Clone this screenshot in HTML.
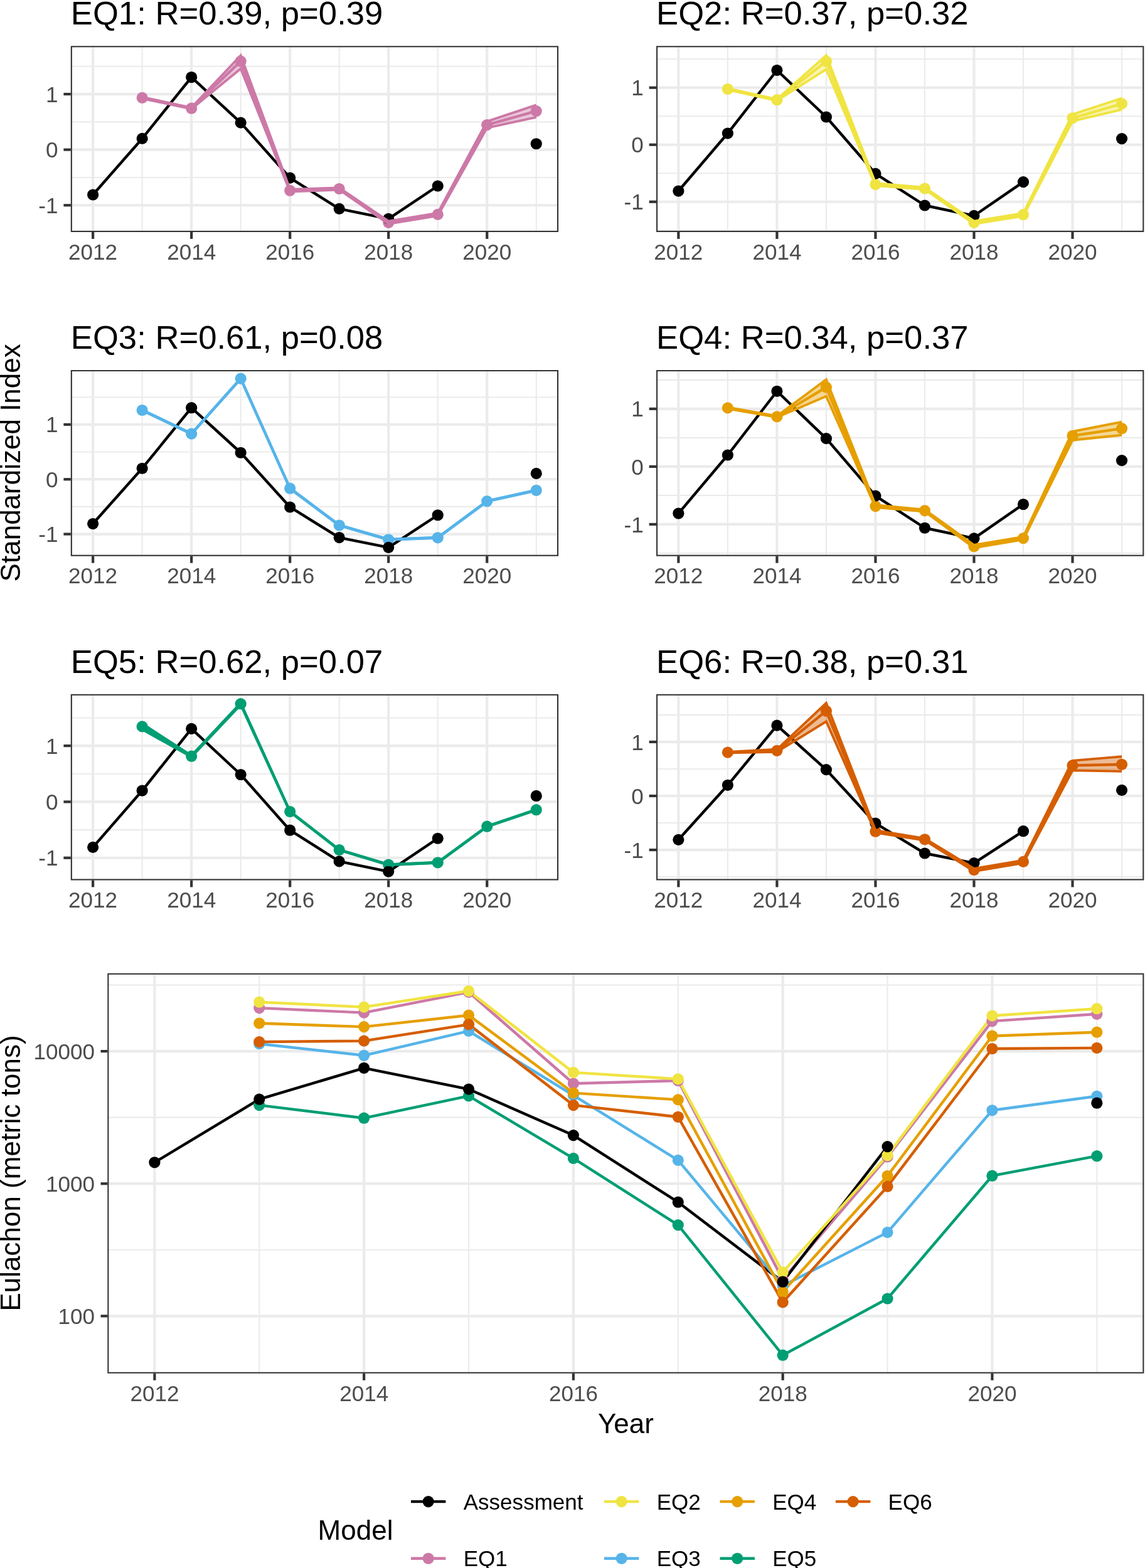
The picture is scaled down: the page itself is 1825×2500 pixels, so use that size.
<!DOCTYPE html>
<html lang="en">
<head>
<meta charset="utf-8">
<title>Eulachon index comparison</title>
<style>
html,body{margin:0;padding:0;background:#fff;}
body{width:1825px;height:2500px;overflow:hidden;}
svg{display:block;}
text{font-kerning:none;}
</style>
</head>
<body>
<svg width="1825" height="2500" viewBox="0 0 1825 2500">
<rect width="1825" height="2500" fill="#fff"/>
<text x="112.8" y="39.3" font-family='"Liberation Sans", sans-serif' font-size="52.65" fill="#000">EQ1: R=0.39, p=0.39</text>
<clipPath id="cp0"><rect x="112.8" y="73.2" width="777.3" height="296.8"/></clipPath>
<g clip-path="url(#cp0)">
<g stroke="#EBEBEB" stroke-width="2.1" fill="none">
<line x1="112.8" x2="890.1" y1="282.95" y2="282.95"/>
<line x1="112.8" x2="890.1" y1="194.35" y2="194.35"/>
<line x1="112.8" x2="890.1" y1="105.75" y2="105.75"/>
<line x1="226.65" x2="226.65" y1="73.2" y2="370"/>
<line x1="383.68" x2="383.68" y1="73.2" y2="370"/>
<line x1="540.71" x2="540.71" y1="73.2" y2="370"/>
<line x1="697.74" x2="697.74" y1="73.2" y2="370"/>
<line x1="854.77" x2="854.77" y1="73.2" y2="370"/>
</g>
<g stroke="#EBEBEB" stroke-width="4.2" fill="none">
<line x1="112.8" x2="890.1" y1="327.25" y2="327.25"/>
<line x1="112.8" x2="890.1" y1="238.65" y2="238.65"/>
<line x1="112.8" x2="890.1" y1="150.05" y2="150.05"/>
<line x1="148.13" x2="148.13" y1="73.2" y2="370"/>
<line x1="305.16" x2="305.16" y1="73.2" y2="370"/>
<line x1="462.19" x2="462.19" y1="73.2" y2="370"/>
<line x1="619.22" x2="619.22" y1="73.2" y2="370"/>
<line x1="776.25" x2="776.25" y1="73.2" y2="370"/>
</g>
<polyline points="148.13,310.5 226.65,220.93 305.16,123.03 383.68,195.59 462.19,283.57 540.71,332.83 619.22,348.87 697.74,296.51" fill="none" stroke="#000" stroke-width="4.4" stroke-linejoin="round"/>
<circle cx="226.65" cy="155.9" r="9.1" fill="#CC79A7"/>
<circle cx="305.16" cy="172.7" r="9.1" fill="#CC79A7"/>
<circle cx="383.68" cy="97.6" r="9.1" fill="#CC79A7"/>
<circle cx="462.19" cy="303.8" r="9.1" fill="#CC79A7"/>
<circle cx="540.71" cy="301" r="9.1" fill="#CC79A7"/>
<circle cx="619.22" cy="354.8" r="9.1" fill="#CC79A7"/>
<circle cx="697.74" cy="341.9" r="9.1" fill="#CC79A7"/>
<circle cx="776.25" cy="199.1" r="9.1" fill="#CC79A7"/>
<circle cx="854.77" cy="177.1" r="9.1" fill="#CC79A7"/>
<circle cx="148.13" cy="310.5" r="9.1" fill="#000"/>
<circle cx="226.65" cy="220.93" r="9.1" fill="#000"/>
<circle cx="305.16" cy="123.03" r="9.1" fill="#000"/>
<circle cx="383.68" cy="195.59" r="9.1" fill="#000"/>
<circle cx="462.19" cy="283.57" r="9.1" fill="#000"/>
<circle cx="540.71" cy="332.83" r="9.1" fill="#000"/>
<circle cx="619.22" cy="348.87" r="9.1" fill="#000"/>
<circle cx="697.74" cy="296.51" r="9.1" fill="#000"/>
<circle cx="854.77" cy="229.26" r="9.1" fill="#000"/>
<polygon points="226.65,154.8 305.16,171.7 383.68,88.5 462.19,302 540.71,299.5 619.22,352.6 697.74,339.7 776.25,193.6 854.77,167.3 854.77,186.9 776.25,203.9 697.74,344.1 619.22,357 540.71,302.5 462.19,305.6 383.68,109.5 305.16,173.7 226.65,157" fill="#CC79A7" fill-opacity="0.42" stroke="none"/>
<polyline points="226.65,154.8 305.16,171.7 383.68,88.5 462.19,302 540.71,299.5 619.22,352.6 697.74,339.7 776.25,193.6 854.77,167.3" fill="none" stroke="#CC79A7" stroke-width="3.9" stroke-linejoin="miter" stroke-miterlimit="10"/>
<polyline points="226.65,157 305.16,173.7 383.68,109.5 462.19,305.6 540.71,302.5 619.22,357 697.74,344.1 776.25,203.9 854.77,186.9" fill="none" stroke="#CC79A7" stroke-width="3.9" stroke-linejoin="miter" stroke-miterlimit="10"/>
<polyline points="226.65,155.9 305.16,172.7 383.68,97.6 462.19,303.8 540.71,301 619.22,354.8 697.74,341.9 776.25,199.1 854.77,177.1" fill="none" stroke="#CC79A7" stroke-width="4.4" stroke-linejoin="round"/>
<rect x="112.8" y="73.2" width="777.3" height="296.8" fill="none" stroke="#333333" stroke-width="4.2"/>
</g>
<g stroke="#333333" stroke-width="4.2" fill="none">
<line x1="148.13" x2="148.13" y1="370" y2="380.9"/>
<line x1="305.16" x2="305.16" y1="370" y2="380.9"/>
<line x1="462.19" x2="462.19" y1="370" y2="380.9"/>
<line x1="619.22" x2="619.22" y1="370" y2="380.9"/>
<line x1="776.25" x2="776.25" y1="370" y2="380.9"/>
<line x1="101.4" x2="112.8" y1="327.25" y2="327.25"/>
<line x1="101.4" x2="112.8" y1="238.65" y2="238.65"/>
<line x1="101.4" x2="112.8" y1="150.05" y2="150.05"/>
</g>
<g font-family='"Liberation Sans", sans-serif' font-size="35.1" fill="#4D4D4D">
<text x="148.13" y="413.7" text-anchor="middle">2012</text>
<text x="305.16" y="413.7" text-anchor="middle">2014</text>
<text x="462.19" y="413.7" text-anchor="middle">2016</text>
<text x="619.22" y="413.7" text-anchor="middle">2018</text>
<text x="776.25" y="413.7" text-anchor="middle">2020</text>
<text x="92.5" y="339.85" text-anchor="end">-1</text>
<text x="92.5" y="251.25" text-anchor="end">0</text>
<text x="92.5" y="162.65" text-anchor="end">1</text>
</g>
<text x="1046.05" y="39.3" font-family='"Liberation Sans", sans-serif' font-size="52.65" fill="#000">EQ2: R=0.37, p=0.32</text>
<clipPath id="cp1"><rect x="1046.05" y="73.2" width="777.3" height="296.8"/></clipPath>
<g clip-path="url(#cp1)">
<g stroke="#EBEBEB" stroke-width="2.1" fill="none">
<line x1="1046.05" x2="1823.35" y1="367.25" y2="367.25"/>
<line x1="1046.05" x2="1823.35" y1="276.25" y2="276.25"/>
<line x1="1046.05" x2="1823.35" y1="185.25" y2="185.25"/>
<line x1="1046.05" x2="1823.35" y1="94.25" y2="94.25"/>
<line x1="1159.9" x2="1159.9" y1="73.2" y2="370"/>
<line x1="1316.93" x2="1316.93" y1="73.2" y2="370"/>
<line x1="1473.96" x2="1473.96" y1="73.2" y2="370"/>
<line x1="1630.99" x2="1630.99" y1="73.2" y2="370"/>
<line x1="1788.02" x2="1788.02" y1="73.2" y2="370"/>
</g>
<g stroke="#EBEBEB" stroke-width="4.2" fill="none">
<line x1="1046.05" x2="1823.35" y1="321.75" y2="321.75"/>
<line x1="1046.05" x2="1823.35" y1="230.75" y2="230.75"/>
<line x1="1046.05" x2="1823.35" y1="139.75" y2="139.75"/>
<line x1="1081.38" x2="1081.38" y1="73.2" y2="370"/>
<line x1="1238.41" x2="1238.41" y1="73.2" y2="370"/>
<line x1="1395.44" x2="1395.44" y1="73.2" y2="370"/>
<line x1="1552.47" x2="1552.47" y1="73.2" y2="370"/>
<line x1="1709.5" x2="1709.5" y1="73.2" y2="370"/>
</g>
<polyline points="1081.38,304.55 1159.9,212.55 1238.41,112 1316.93,186.52 1395.44,276.89 1473.96,327.48 1552.47,343.95 1630.99,290.17" fill="none" stroke="#000" stroke-width="4.4" stroke-linejoin="round"/>
<circle cx="1159.9" cy="142" r="9.1" fill="#F0E442"/>
<circle cx="1238.41" cy="159.3" r="9.1" fill="#F0E442"/>
<circle cx="1316.93" cy="97.8" r="9.1" fill="#F0E442"/>
<circle cx="1395.44" cy="294" r="9.1" fill="#F0E442"/>
<circle cx="1473.96" cy="300.5" r="9.1" fill="#F0E442"/>
<circle cx="1552.47" cy="354.8" r="9.1" fill="#F0E442"/>
<circle cx="1630.99" cy="342.2" r="9.1" fill="#F0E442"/>
<circle cx="1709.5" cy="188.3" r="9.1" fill="#F0E442"/>
<circle cx="1788.02" cy="165.4" r="9.1" fill="#F0E442"/>
<circle cx="1081.38" cy="304.55" r="9.1" fill="#000"/>
<circle cx="1159.9" cy="212.55" r="9.1" fill="#000"/>
<circle cx="1238.41" cy="112" r="9.1" fill="#000"/>
<circle cx="1316.93" cy="186.52" r="9.1" fill="#000"/>
<circle cx="1395.44" cy="276.89" r="9.1" fill="#000"/>
<circle cx="1473.96" cy="327.48" r="9.1" fill="#000"/>
<circle cx="1552.47" cy="343.95" r="9.1" fill="#000"/>
<circle cx="1630.99" cy="290.17" r="9.1" fill="#000"/>
<circle cx="1788.02" cy="221.1" r="9.1" fill="#000"/>
<polygon points="1159.9,140.9 1238.41,158.3 1316.93,88.3 1395.44,292.2 1473.96,299 1552.47,352.6 1630.99,340 1709.5,182.3 1788.02,156.6 1788.02,174.5 1709.5,193.2 1630.99,344.4 1552.47,357 1473.96,302 1395.44,295.8 1316.93,110.6 1238.41,160.3 1159.9,143.1" fill="#F0E442" fill-opacity="0.42" stroke="none"/>
<polyline points="1159.9,140.9 1238.41,158.3 1316.93,88.3 1395.44,292.2 1473.96,299 1552.47,352.6 1630.99,340 1709.5,182.3 1788.02,156.6" fill="none" stroke="#F0E442" stroke-width="3.9" stroke-linejoin="miter" stroke-miterlimit="10"/>
<polyline points="1159.9,143.1 1238.41,160.3 1316.93,110.6 1395.44,295.8 1473.96,302 1552.47,357 1630.99,344.4 1709.5,193.2 1788.02,174.5" fill="none" stroke="#F0E442" stroke-width="3.9" stroke-linejoin="miter" stroke-miterlimit="10"/>
<polyline points="1159.9,142 1238.41,159.3 1316.93,97.8 1395.44,294 1473.96,300.5 1552.47,354.8 1630.99,342.2 1709.5,188.3 1788.02,165.4" fill="none" stroke="#F0E442" stroke-width="4.4" stroke-linejoin="round"/>
<rect x="1046.05" y="73.2" width="777.3" height="296.8" fill="none" stroke="#333333" stroke-width="4.2"/>
</g>
<g stroke="#333333" stroke-width="4.2" fill="none">
<line x1="1081.38" x2="1081.38" y1="370" y2="380.9"/>
<line x1="1238.41" x2="1238.41" y1="370" y2="380.9"/>
<line x1="1395.44" x2="1395.44" y1="370" y2="380.9"/>
<line x1="1552.47" x2="1552.47" y1="370" y2="380.9"/>
<line x1="1709.5" x2="1709.5" y1="370" y2="380.9"/>
<line x1="1034.65" x2="1046.05" y1="321.75" y2="321.75"/>
<line x1="1034.65" x2="1046.05" y1="230.75" y2="230.75"/>
<line x1="1034.65" x2="1046.05" y1="139.75" y2="139.75"/>
</g>
<g font-family='"Liberation Sans", sans-serif' font-size="35.1" fill="#4D4D4D">
<text x="1081.38" y="413.7" text-anchor="middle">2012</text>
<text x="1238.41" y="413.7" text-anchor="middle">2014</text>
<text x="1395.44" y="413.7" text-anchor="middle">2016</text>
<text x="1552.47" y="413.7" text-anchor="middle">2018</text>
<text x="1709.5" y="413.7" text-anchor="middle">2020</text>
<text x="1025.75" y="334.35" text-anchor="end">-1</text>
<text x="1025.75" y="243.35" text-anchor="end">0</text>
<text x="1025.75" y="152.35" text-anchor="end">1</text>
</g>
<text x="112.8" y="556.05" font-family='"Liberation Sans", sans-serif' font-size="52.65" fill="#000">EQ3: R=0.61, p=0.08</text>
<clipPath id="cp2"><rect x="112.8" y="589.95" width="777.3" height="296.8"/></clipPath>
<g clip-path="url(#cp2)">
<g stroke="#EBEBEB" stroke-width="2.1" fill="none">
<line x1="112.8" x2="890.1" y1="807.88" y2="807.88"/>
<line x1="112.8" x2="890.1" y1="720.53" y2="720.53"/>
<line x1="112.8" x2="890.1" y1="633.18" y2="633.18"/>
<line x1="226.65" x2="226.65" y1="589.95" y2="886.75"/>
<line x1="383.68" x2="383.68" y1="589.95" y2="886.75"/>
<line x1="540.71" x2="540.71" y1="589.95" y2="886.75"/>
<line x1="697.74" x2="697.74" y1="589.95" y2="886.75"/>
<line x1="854.77" x2="854.77" y1="589.95" y2="886.75"/>
</g>
<g stroke="#EBEBEB" stroke-width="4.2" fill="none">
<line x1="112.8" x2="890.1" y1="851.55" y2="851.55"/>
<line x1="112.8" x2="890.1" y1="764.2" y2="764.2"/>
<line x1="112.8" x2="890.1" y1="676.85" y2="676.85"/>
<line x1="148.13" x2="148.13" y1="589.95" y2="886.75"/>
<line x1="305.16" x2="305.16" y1="589.95" y2="886.75"/>
<line x1="462.19" x2="462.19" y1="589.95" y2="886.75"/>
<line x1="619.22" x2="619.22" y1="589.95" y2="886.75"/>
<line x1="776.25" x2="776.25" y1="589.95" y2="886.75"/>
</g>
<polyline points="148.13,835.04 226.65,746.73 305.16,650.21 383.68,721.75 462.19,808.49 540.71,857.05 619.22,872.86 697.74,821.24" fill="none" stroke="#000" stroke-width="4.4" stroke-linejoin="round"/>
<circle cx="226.65" cy="654" r="9.1" fill="#56B4E9"/>
<circle cx="305.16" cy="691.6" r="9.1" fill="#56B4E9"/>
<circle cx="383.68" cy="603.6" r="9.1" fill="#56B4E9"/>
<circle cx="462.19" cy="778.7" r="9.1" fill="#56B4E9"/>
<circle cx="540.71" cy="837.5" r="9.1" fill="#56B4E9"/>
<circle cx="619.22" cy="860.3" r="9.1" fill="#56B4E9"/>
<circle cx="697.74" cy="857.3" r="9.1" fill="#56B4E9"/>
<circle cx="776.25" cy="799.1" r="9.1" fill="#56B4E9"/>
<circle cx="854.77" cy="781.8" r="9.1" fill="#56B4E9"/>
<circle cx="148.13" cy="835.04" r="9.1" fill="#000"/>
<circle cx="226.65" cy="746.73" r="9.1" fill="#000"/>
<circle cx="305.16" cy="650.21" r="9.1" fill="#000"/>
<circle cx="383.68" cy="721.75" r="9.1" fill="#000"/>
<circle cx="462.19" cy="808.49" r="9.1" fill="#000"/>
<circle cx="540.71" cy="857.05" r="9.1" fill="#000"/>
<circle cx="619.22" cy="872.86" r="9.1" fill="#000"/>
<circle cx="697.74" cy="821.24" r="9.1" fill="#000"/>
<circle cx="854.77" cy="754.94" r="9.1" fill="#000"/>
<polygon points="226.65,653.4 305.16,691 383.68,603 462.19,778.1 540.71,836.9 619.22,859.7 697.74,856.7 776.25,798.5 854.77,781.2 854.77,782.4 776.25,799.7 697.74,857.9 619.22,860.9 540.71,838.1 462.19,779.3 383.68,604.2 305.16,692.2 226.65,654.6" fill="#56B4E9" fill-opacity="0.42" stroke="none"/>
<polyline points="226.65,653.4 305.16,691 383.68,603 462.19,778.1 540.71,836.9 619.22,859.7 697.74,856.7 776.25,798.5 854.77,781.2" fill="none" stroke="#56B4E9" stroke-width="3.9" stroke-linejoin="miter" stroke-miterlimit="10"/>
<polyline points="226.65,654.6 305.16,692.2 383.68,604.2 462.19,779.3 540.71,838.1 619.22,860.9 697.74,857.9 776.25,799.7 854.77,782.4" fill="none" stroke="#56B4E9" stroke-width="3.9" stroke-linejoin="miter" stroke-miterlimit="10"/>
<polyline points="226.65,654 305.16,691.6 383.68,603.6 462.19,778.7 540.71,837.5 619.22,860.3 697.74,857.3 776.25,799.1 854.77,781.8" fill="none" stroke="#56B4E9" stroke-width="4.4" stroke-linejoin="round"/>
<rect x="112.8" y="589.95" width="777.3" height="296.8" fill="none" stroke="#333333" stroke-width="4.2"/>
</g>
<g stroke="#333333" stroke-width="4.2" fill="none">
<line x1="148.13" x2="148.13" y1="886.75" y2="897.65"/>
<line x1="305.16" x2="305.16" y1="886.75" y2="897.65"/>
<line x1="462.19" x2="462.19" y1="886.75" y2="897.65"/>
<line x1="619.22" x2="619.22" y1="886.75" y2="897.65"/>
<line x1="776.25" x2="776.25" y1="886.75" y2="897.65"/>
<line x1="101.4" x2="112.8" y1="851.55" y2="851.55"/>
<line x1="101.4" x2="112.8" y1="764.2" y2="764.2"/>
<line x1="101.4" x2="112.8" y1="676.85" y2="676.85"/>
</g>
<g font-family='"Liberation Sans", sans-serif' font-size="35.1" fill="#4D4D4D">
<text x="148.13" y="930.45" text-anchor="middle">2012</text>
<text x="305.16" y="930.45" text-anchor="middle">2014</text>
<text x="462.19" y="930.45" text-anchor="middle">2016</text>
<text x="619.22" y="930.45" text-anchor="middle">2018</text>
<text x="776.25" y="930.45" text-anchor="middle">2020</text>
<text x="92.5" y="864.15" text-anchor="end">-1</text>
<text x="92.5" y="776.8" text-anchor="end">0</text>
<text x="92.5" y="689.45" text-anchor="end">1</text>
</g>
<text x="1046.05" y="556.05" font-family='"Liberation Sans", sans-serif' font-size="52.65" fill="#000">EQ4: R=0.34, p=0.37</text>
<clipPath id="cp3"><rect x="1046.05" y="589.95" width="777.3" height="296.8"/></clipPath>
<g clip-path="url(#cp3)">
<g stroke="#EBEBEB" stroke-width="2.1" fill="none">
<line x1="1046.05" x2="1823.35" y1="881.97" y2="881.97"/>
<line x1="1046.05" x2="1823.35" y1="789.92" y2="789.92"/>
<line x1="1046.05" x2="1823.35" y1="697.88" y2="697.88"/>
<line x1="1046.05" x2="1823.35" y1="605.83" y2="605.83"/>
<line x1="1159.9" x2="1159.9" y1="589.95" y2="886.75"/>
<line x1="1316.93" x2="1316.93" y1="589.95" y2="886.75"/>
<line x1="1473.96" x2="1473.96" y1="589.95" y2="886.75"/>
<line x1="1630.99" x2="1630.99" y1="589.95" y2="886.75"/>
<line x1="1788.02" x2="1788.02" y1="589.95" y2="886.75"/>
</g>
<g stroke="#EBEBEB" stroke-width="4.2" fill="none">
<line x1="1046.05" x2="1823.35" y1="835.95" y2="835.95"/>
<line x1="1046.05" x2="1823.35" y1="743.9" y2="743.9"/>
<line x1="1046.05" x2="1823.35" y1="651.85" y2="651.85"/>
<line x1="1081.38" x2="1081.38" y1="589.95" y2="886.75"/>
<line x1="1238.41" x2="1238.41" y1="589.95" y2="886.75"/>
<line x1="1395.44" x2="1395.44" y1="589.95" y2="886.75"/>
<line x1="1552.47" x2="1552.47" y1="589.95" y2="886.75"/>
<line x1="1709.5" x2="1709.5" y1="589.95" y2="886.75"/>
</g>
<polyline points="1081.38,818.55 1159.9,725.49 1238.41,623.77 1316.93,699.16 1395.44,790.57 1473.96,841.75 1552.47,858.41 1630.99,804.01" fill="none" stroke="#000" stroke-width="4.4" stroke-linejoin="round"/>
<circle cx="1159.9" cy="650.4" r="9.1" fill="#E69F00"/>
<circle cx="1238.41" cy="664.3" r="9.1" fill="#E69F00"/>
<circle cx="1316.93" cy="617.5" r="9.1" fill="#E69F00"/>
<circle cx="1395.44" cy="807.1" r="9.1" fill="#E69F00"/>
<circle cx="1473.96" cy="814.1" r="9.1" fill="#E69F00"/>
<circle cx="1552.47" cy="871.2" r="9.1" fill="#E69F00"/>
<circle cx="1630.99" cy="858.1" r="9.1" fill="#E69F00"/>
<circle cx="1709.5" cy="694.8" r="9.1" fill="#E69F00"/>
<circle cx="1788.02" cy="683.2" r="9.1" fill="#E69F00"/>
<circle cx="1081.38" cy="818.55" r="9.1" fill="#000"/>
<circle cx="1159.9" cy="725.49" r="9.1" fill="#000"/>
<circle cx="1238.41" cy="623.77" r="9.1" fill="#000"/>
<circle cx="1316.93" cy="699.16" r="9.1" fill="#000"/>
<circle cx="1395.44" cy="790.57" r="9.1" fill="#000"/>
<circle cx="1473.96" cy="841.75" r="9.1" fill="#000"/>
<circle cx="1552.47" cy="858.41" r="9.1" fill="#000"/>
<circle cx="1630.99" cy="804.01" r="9.1" fill="#000"/>
<circle cx="1788.02" cy="734.14" r="9.1" fill="#000"/>
<polygon points="1159.9,649.3 1238.41,663.3 1316.93,605 1395.44,805.3 1473.96,812.6 1552.47,869 1630.99,855.9 1709.5,688 1788.02,672.7 1788.02,693.7 1709.5,701.7 1630.99,860.3 1552.47,873.4 1473.96,815.6 1395.44,808.9 1316.93,631.7 1238.41,665.3 1159.9,651.5" fill="#E69F00" fill-opacity="0.42" stroke="none"/>
<polyline points="1159.9,649.3 1238.41,663.3 1316.93,605 1395.44,805.3 1473.96,812.6 1552.47,869 1630.99,855.9 1709.5,688 1788.02,672.7" fill="none" stroke="#E69F00" stroke-width="3.9" stroke-linejoin="miter" stroke-miterlimit="10"/>
<polyline points="1159.9,651.5 1238.41,665.3 1316.93,631.7 1395.44,808.9 1473.96,815.6 1552.47,873.4 1630.99,860.3 1709.5,701.7 1788.02,693.7" fill="none" stroke="#E69F00" stroke-width="3.9" stroke-linejoin="miter" stroke-miterlimit="10"/>
<polyline points="1159.9,650.4 1238.41,664.3 1316.93,617.5 1395.44,807.1 1473.96,814.1 1552.47,871.2 1630.99,858.1 1709.5,694.8 1788.02,683.2" fill="none" stroke="#E69F00" stroke-width="4.4" stroke-linejoin="round"/>
<rect x="1046.05" y="589.95" width="777.3" height="296.8" fill="none" stroke="#333333" stroke-width="4.2"/>
</g>
<g stroke="#333333" stroke-width="4.2" fill="none">
<line x1="1081.38" x2="1081.38" y1="886.75" y2="897.65"/>
<line x1="1238.41" x2="1238.41" y1="886.75" y2="897.65"/>
<line x1="1395.44" x2="1395.44" y1="886.75" y2="897.65"/>
<line x1="1552.47" x2="1552.47" y1="886.75" y2="897.65"/>
<line x1="1709.5" x2="1709.5" y1="886.75" y2="897.65"/>
<line x1="1034.65" x2="1046.05" y1="835.95" y2="835.95"/>
<line x1="1034.65" x2="1046.05" y1="743.9" y2="743.9"/>
<line x1="1034.65" x2="1046.05" y1="651.85" y2="651.85"/>
</g>
<g font-family='"Liberation Sans", sans-serif' font-size="35.1" fill="#4D4D4D">
<text x="1081.38" y="930.45" text-anchor="middle">2012</text>
<text x="1238.41" y="930.45" text-anchor="middle">2014</text>
<text x="1395.44" y="930.45" text-anchor="middle">2016</text>
<text x="1552.47" y="930.45" text-anchor="middle">2018</text>
<text x="1709.5" y="930.45" text-anchor="middle">2020</text>
<text x="1025.75" y="848.55" text-anchor="end">-1</text>
<text x="1025.75" y="756.5" text-anchor="end">0</text>
<text x="1025.75" y="664.45" text-anchor="end">1</text>
</g>
<text x="112.8" y="1072.8" font-family='"Liberation Sans", sans-serif' font-size="52.65" fill="#000">EQ5: R=0.62, p=0.07</text>
<clipPath id="cp4"><rect x="112.8" y="1106.7" width="777.3" height="296.8"/></clipPath>
<g clip-path="url(#cp4)">
<g stroke="#EBEBEB" stroke-width="2.1" fill="none">
<line x1="112.8" x2="890.1" y1="1323.09" y2="1323.09"/>
<line x1="112.8" x2="890.1" y1="1233.76" y2="1233.76"/>
<line x1="112.8" x2="890.1" y1="1144.43" y2="1144.43"/>
<line x1="226.65" x2="226.65" y1="1106.7" y2="1403.5"/>
<line x1="383.68" x2="383.68" y1="1106.7" y2="1403.5"/>
<line x1="540.71" x2="540.71" y1="1106.7" y2="1403.5"/>
<line x1="697.74" x2="697.74" y1="1106.7" y2="1403.5"/>
<line x1="854.77" x2="854.77" y1="1106.7" y2="1403.5"/>
</g>
<g stroke="#EBEBEB" stroke-width="4.2" fill="none">
<line x1="112.8" x2="890.1" y1="1367.75" y2="1367.75"/>
<line x1="112.8" x2="890.1" y1="1278.42" y2="1278.42"/>
<line x1="112.8" x2="890.1" y1="1189.09" y2="1189.09"/>
<line x1="148.13" x2="148.13" y1="1106.7" y2="1403.5"/>
<line x1="305.16" x2="305.16" y1="1106.7" y2="1403.5"/>
<line x1="462.19" x2="462.19" y1="1106.7" y2="1403.5"/>
<line x1="619.22" x2="619.22" y1="1106.7" y2="1403.5"/>
<line x1="776.25" x2="776.25" y1="1106.7" y2="1403.5"/>
</g>
<polyline points="148.13,1350.87 226.65,1260.55 305.16,1161.84 383.68,1235.01 462.19,1323.71 540.71,1373.38 619.22,1389.55 697.74,1336.75" fill="none" stroke="#000" stroke-width="4.4" stroke-linejoin="round"/>
<circle cx="226.65" cy="1158.4" r="9.1" fill="#009E73"/>
<circle cx="305.16" cy="1205.7" r="9.1" fill="#009E73"/>
<circle cx="383.68" cy="1122.2" r="9.1" fill="#009E73"/>
<circle cx="462.19" cy="1294" r="9.1" fill="#009E73"/>
<circle cx="540.71" cy="1355" r="9.1" fill="#009E73"/>
<circle cx="619.22" cy="1378.7" r="9.1" fill="#009E73"/>
<circle cx="697.74" cy="1375.3" r="9.1" fill="#009E73"/>
<circle cx="776.25" cy="1317.7" r="9.1" fill="#009E73"/>
<circle cx="854.77" cy="1291.2" r="9.1" fill="#009E73"/>
<circle cx="148.13" cy="1350.87" r="9.1" fill="#000"/>
<circle cx="226.65" cy="1260.55" r="9.1" fill="#000"/>
<circle cx="305.16" cy="1161.84" r="9.1" fill="#000"/>
<circle cx="383.68" cy="1235.01" r="9.1" fill="#000"/>
<circle cx="462.19" cy="1323.71" r="9.1" fill="#000"/>
<circle cx="540.71" cy="1373.38" r="9.1" fill="#000"/>
<circle cx="619.22" cy="1389.55" r="9.1" fill="#000"/>
<circle cx="697.74" cy="1336.75" r="9.1" fill="#000"/>
<circle cx="854.77" cy="1268.95" r="9.1" fill="#000"/>
<polygon points="226.65,1153.7 305.16,1204.7 383.68,1120.7 462.19,1293.5 540.71,1354.5 619.22,1378.2 697.74,1374.8 776.25,1317.2 854.77,1290.7 854.77,1291.7 776.25,1318.2 697.74,1375.8 619.22,1379.2 540.71,1355.5 462.19,1294.5 383.68,1123.7 305.16,1206.7 226.65,1163.1" fill="#009E73" fill-opacity="0.42" stroke="none"/>
<polyline points="226.65,1153.7 305.16,1204.7 383.68,1120.7 462.19,1293.5 540.71,1354.5 619.22,1378.2 697.74,1374.8 776.25,1317.2 854.77,1290.7" fill="none" stroke="#009E73" stroke-width="3.9" stroke-linejoin="miter" stroke-miterlimit="10"/>
<polyline points="226.65,1163.1 305.16,1206.7 383.68,1123.7 462.19,1294.5 540.71,1355.5 619.22,1379.2 697.74,1375.8 776.25,1318.2 854.77,1291.7" fill="none" stroke="#009E73" stroke-width="3.9" stroke-linejoin="miter" stroke-miterlimit="10"/>
<polyline points="226.65,1158.4 305.16,1205.7 383.68,1122.2 462.19,1294 540.71,1355 619.22,1378.7 697.74,1375.3 776.25,1317.7 854.77,1291.2" fill="none" stroke="#009E73" stroke-width="4.4" stroke-linejoin="round"/>
<rect x="112.8" y="1106.7" width="777.3" height="296.8" fill="none" stroke="#333333" stroke-width="4.2"/>
</g>
<g stroke="#333333" stroke-width="4.2" fill="none">
<line x1="148.13" x2="148.13" y1="1403.5" y2="1414.4"/>
<line x1="305.16" x2="305.16" y1="1403.5" y2="1414.4"/>
<line x1="462.19" x2="462.19" y1="1403.5" y2="1414.4"/>
<line x1="619.22" x2="619.22" y1="1403.5" y2="1414.4"/>
<line x1="776.25" x2="776.25" y1="1403.5" y2="1414.4"/>
<line x1="101.4" x2="112.8" y1="1367.75" y2="1367.75"/>
<line x1="101.4" x2="112.8" y1="1278.42" y2="1278.42"/>
<line x1="101.4" x2="112.8" y1="1189.09" y2="1189.09"/>
</g>
<g font-family='"Liberation Sans", sans-serif' font-size="35.1" fill="#4D4D4D">
<text x="148.13" y="1447.2" text-anchor="middle">2012</text>
<text x="305.16" y="1447.2" text-anchor="middle">2014</text>
<text x="462.19" y="1447.2" text-anchor="middle">2016</text>
<text x="619.22" y="1447.2" text-anchor="middle">2018</text>
<text x="776.25" y="1447.2" text-anchor="middle">2020</text>
<text x="92.5" y="1380.35" text-anchor="end">-1</text>
<text x="92.5" y="1291.02" text-anchor="end">0</text>
<text x="92.5" y="1201.69" text-anchor="end">1</text>
</g>
<text x="1046.05" y="1072.8" font-family='"Liberation Sans", sans-serif' font-size="52.65" fill="#000">EQ6: R=0.38, p=0.31</text>
<clipPath id="cp5"><rect x="1046.05" y="1106.7" width="777.3" height="296.8"/></clipPath>
<g clip-path="url(#cp5)">
<g stroke="#EBEBEB" stroke-width="2.1" fill="none">
<line x1="1046.05" x2="1823.35" y1="1398.15" y2="1398.15"/>
<line x1="1046.05" x2="1823.35" y1="1312.05" y2="1312.05"/>
<line x1="1046.05" x2="1823.35" y1="1225.95" y2="1225.95"/>
<line x1="1046.05" x2="1823.35" y1="1139.85" y2="1139.85"/>
<line x1="1159.9" x2="1159.9" y1="1106.7" y2="1403.5"/>
<line x1="1316.93" x2="1316.93" y1="1106.7" y2="1403.5"/>
<line x1="1473.96" x2="1473.96" y1="1106.7" y2="1403.5"/>
<line x1="1630.99" x2="1630.99" y1="1106.7" y2="1403.5"/>
<line x1="1788.02" x2="1788.02" y1="1106.7" y2="1403.5"/>
</g>
<g stroke="#EBEBEB" stroke-width="4.2" fill="none">
<line x1="1046.05" x2="1823.35" y1="1355.1" y2="1355.1"/>
<line x1="1046.05" x2="1823.35" y1="1269" y2="1269"/>
<line x1="1046.05" x2="1823.35" y1="1182.9" y2="1182.9"/>
<line x1="1081.38" x2="1081.38" y1="1106.7" y2="1403.5"/>
<line x1="1238.41" x2="1238.41" y1="1106.7" y2="1403.5"/>
<line x1="1395.44" x2="1395.44" y1="1106.7" y2="1403.5"/>
<line x1="1552.47" x2="1552.47" y1="1106.7" y2="1403.5"/>
<line x1="1709.5" x2="1709.5" y1="1106.7" y2="1403.5"/>
</g>
<polyline points="1081.38,1338.83 1159.9,1251.78 1238.41,1156.64 1316.93,1227.16 1395.44,1312.65 1473.96,1360.52 1552.47,1376.11 1630.99,1325.22" fill="none" stroke="#000" stroke-width="4.4" stroke-linejoin="round"/>
<circle cx="1159.9" cy="1199.6" r="9.1" fill="#D55E00"/>
<circle cx="1238.41" cy="1196.8" r="9.1" fill="#D55E00"/>
<circle cx="1316.93" cy="1133.6" r="9.1" fill="#D55E00"/>
<circle cx="1395.44" cy="1325.7" r="9.1" fill="#D55E00"/>
<circle cx="1473.96" cy="1338.3" r="9.1" fill="#D55E00"/>
<circle cx="1552.47" cy="1387" r="9.1" fill="#D55E00"/>
<circle cx="1630.99" cy="1373.9" r="9.1" fill="#D55E00"/>
<circle cx="1709.5" cy="1220.4" r="9.1" fill="#D55E00"/>
<circle cx="1788.02" cy="1218.8" r="9.1" fill="#D55E00"/>
<circle cx="1081.38" cy="1338.83" r="9.1" fill="#000"/>
<circle cx="1159.9" cy="1251.78" r="9.1" fill="#000"/>
<circle cx="1238.41" cy="1156.64" r="9.1" fill="#000"/>
<circle cx="1316.93" cy="1227.16" r="9.1" fill="#000"/>
<circle cx="1395.44" cy="1312.65" r="9.1" fill="#000"/>
<circle cx="1473.96" cy="1360.52" r="9.1" fill="#000"/>
<circle cx="1552.47" cy="1376.11" r="9.1" fill="#000"/>
<circle cx="1630.99" cy="1325.22" r="9.1" fill="#000"/>
<circle cx="1788.02" cy="1259.87" r="9.1" fill="#000"/>
<polygon points="1159.9,1199 1238.41,1194.8 1316.93,1120.9 1395.44,1323.9 1473.96,1336.8 1552.47,1384.8 1630.99,1371.7 1709.5,1212.9 1788.02,1206.2 1788.02,1229.8 1709.5,1228.4 1630.99,1376.1 1552.47,1389.2 1473.96,1339.8 1395.44,1327.5 1316.93,1150.3 1238.41,1198.8 1159.9,1200.2" fill="#D55E00" fill-opacity="0.42" stroke="none"/>
<polyline points="1159.9,1199 1238.41,1194.8 1316.93,1120.9 1395.44,1323.9 1473.96,1336.8 1552.47,1384.8 1630.99,1371.7 1709.5,1212.9 1788.02,1206.2" fill="none" stroke="#D55E00" stroke-width="3.9" stroke-linejoin="miter" stroke-miterlimit="10"/>
<polyline points="1159.9,1200.2 1238.41,1198.8 1316.93,1150.3 1395.44,1327.5 1473.96,1339.8 1552.47,1389.2 1630.99,1376.1 1709.5,1228.4 1788.02,1229.8" fill="none" stroke="#D55E00" stroke-width="3.9" stroke-linejoin="miter" stroke-miterlimit="10"/>
<polyline points="1159.9,1199.6 1238.41,1196.8 1316.93,1133.6 1395.44,1325.7 1473.96,1338.3 1552.47,1387 1630.99,1373.9 1709.5,1220.4 1788.02,1218.8" fill="none" stroke="#D55E00" stroke-width="4.4" stroke-linejoin="round"/>
<rect x="1046.05" y="1106.7" width="777.3" height="296.8" fill="none" stroke="#333333" stroke-width="4.2"/>
</g>
<g stroke="#333333" stroke-width="4.2" fill="none">
<line x1="1081.38" x2="1081.38" y1="1403.5" y2="1414.4"/>
<line x1="1238.41" x2="1238.41" y1="1403.5" y2="1414.4"/>
<line x1="1395.44" x2="1395.44" y1="1403.5" y2="1414.4"/>
<line x1="1552.47" x2="1552.47" y1="1403.5" y2="1414.4"/>
<line x1="1709.5" x2="1709.5" y1="1403.5" y2="1414.4"/>
<line x1="1034.65" x2="1046.05" y1="1355.1" y2="1355.1"/>
<line x1="1034.65" x2="1046.05" y1="1269" y2="1269"/>
<line x1="1034.65" x2="1046.05" y1="1182.9" y2="1182.9"/>
</g>
<g font-family='"Liberation Sans", sans-serif' font-size="35.1" fill="#4D4D4D">
<text x="1081.38" y="1447.2" text-anchor="middle">2012</text>
<text x="1238.41" y="1447.2" text-anchor="middle">2014</text>
<text x="1395.44" y="1447.2" text-anchor="middle">2016</text>
<text x="1552.47" y="1447.2" text-anchor="middle">2018</text>
<text x="1709.5" y="1447.2" text-anchor="middle">2020</text>
<text x="1025.75" y="1367.7" text-anchor="end">-1</text>
<text x="1025.75" y="1281.6" text-anchor="end">0</text>
<text x="1025.75" y="1195.5" text-anchor="end">1</text>
</g>
<text transform="translate(31.7,737.8) rotate(-90)" text-anchor="middle" font-family='"Liberation Sans", sans-serif' font-size="44" fill="#000">Standardized Index</text>
<clipPath id="cpb"><rect x="171.3" y="1551.7" width="1652.1" height="638.1"/></clipPath>
<g clip-path="url(#cpb)">
<g stroke="#EBEBEB" stroke-width="2.1" fill="none">
<line x1="171.3" x2="1823.4" y1="1570.55" y2="1570.55"/>
<line x1="171.3" x2="1823.4" y1="1781.65" y2="1781.65"/>
<line x1="171.3" x2="1823.4" y1="1992.75" y2="1992.75"/>
<line x1="413.27" x2="413.27" y1="1551.7" y2="2189.8"/>
<line x1="747.03" x2="747.03" y1="1551.7" y2="2189.8"/>
<line x1="1080.79" x2="1080.79" y1="1551.7" y2="2189.8"/>
<line x1="1414.55" x2="1414.55" y1="1551.7" y2="2189.8"/>
<line x1="1748.3" x2="1748.3" y1="1551.7" y2="2189.8"/>
</g>
<g stroke="#EBEBEB" stroke-width="4.2" fill="none">
<line x1="171.3" x2="1823.4" y1="1676.1" y2="1676.1"/>
<line x1="171.3" x2="1823.4" y1="1887.2" y2="1887.2"/>
<line x1="171.3" x2="1823.4" y1="2098.3" y2="2098.3"/>
<line x1="246.4" x2="246.4" y1="1551.7" y2="2189.8"/>
<line x1="580.15" x2="580.15" y1="1551.7" y2="2189.8"/>
<line x1="913.91" x2="913.91" y1="1551.7" y2="2189.8"/>
<line x1="1247.67" x2="1247.67" y1="1551.7" y2="2189.8"/>
<line x1="1581.43" x2="1581.43" y1="1551.7" y2="2189.8"/>
</g>
<polyline points="413.27,1607.1 580.15,1614.6 747.03,1581.9 913.91,1727.5 1080.79,1723 1247.67,2040 1414.55,1844.5 1581.43,1628.1 1748.3,1616.8" fill="none" stroke="#CC79A7" stroke-width="4.4" stroke-linejoin="round"/>
<polyline points="246.4,1853.3 413.27,1752.7 580.15,1702.8 747.03,1736.6 913.91,1810.1 1080.79,1916.7 1247.67,2043.7 1414.55,1828.1" fill="none" stroke="#000" stroke-width="4.4" stroke-linejoin="round"/>
<polyline points="413.27,1597.7 580.15,1605.6 747.03,1580 913.91,1709.9 1080.79,1720.4 1247.67,2028.4 1414.55,1842.1 1581.43,1619.5 1748.3,1608.2" fill="none" stroke="#F0E442" stroke-width="4.4" stroke-linejoin="round"/>
<polyline points="413.27,1664.2 580.15,1682.8 747.03,1643.9 913.91,1746.3 1080.79,1849.9 1247.67,2050 1414.55,1964.9 1581.43,1770.3 1748.3,1747.8" fill="none" stroke="#56B4E9" stroke-width="4.4" stroke-linejoin="round"/>
<polyline points="413.27,1631.5 580.15,1637.1 747.03,1618.7 913.91,1742.6 1080.79,1753.4 1247.67,2059.6 1414.55,1874.8 1581.43,1651.7 1748.3,1645.7" fill="none" stroke="#E69F00" stroke-width="4.4" stroke-linejoin="round"/>
<polyline points="413.27,1762.1 580.15,1782.7 747.03,1747.4 913.91,1846.9 1080.79,1953.1 1247.67,2160.7 1414.55,2070.5 1581.43,1874.7 1748.3,1843.2" fill="none" stroke="#009E73" stroke-width="4.4" stroke-linejoin="round"/>
<polyline points="413.27,1661.1 580.15,1659.6 747.03,1633.3 913.91,1762.1 1080.79,1780.8 1247.67,2076.3 1414.55,1891.7 1581.43,1672 1748.3,1670.9" fill="none" stroke="#D55E00" stroke-width="4.4" stroke-linejoin="round"/>
<circle cx="413.27" cy="1607.1" r="9.1" fill="#CC79A7"/>
<circle cx="580.15" cy="1614.6" r="9.1" fill="#CC79A7"/>
<circle cx="747.03" cy="1581.9" r="9.1" fill="#CC79A7"/>
<circle cx="913.91" cy="1727.5" r="9.1" fill="#CC79A7"/>
<circle cx="1080.79" cy="1723" r="9.1" fill="#CC79A7"/>
<circle cx="1247.67" cy="2040" r="9.1" fill="#CC79A7"/>
<circle cx="1414.55" cy="1844.5" r="9.1" fill="#CC79A7"/>
<circle cx="1581.43" cy="1628.1" r="9.1" fill="#CC79A7"/>
<circle cx="1748.3" cy="1616.8" r="9.1" fill="#CC79A7"/>
<circle cx="413.27" cy="1597.7" r="9.1" fill="#F0E442"/>
<circle cx="580.15" cy="1605.6" r="9.1" fill="#F0E442"/>
<circle cx="747.03" cy="1580" r="9.1" fill="#F0E442"/>
<circle cx="913.91" cy="1709.9" r="9.1" fill="#F0E442"/>
<circle cx="1080.79" cy="1720.4" r="9.1" fill="#F0E442"/>
<circle cx="1247.67" cy="2028.4" r="9.1" fill="#F0E442"/>
<circle cx="1414.55" cy="1842.1" r="9.1" fill="#F0E442"/>
<circle cx="1581.43" cy="1619.5" r="9.1" fill="#F0E442"/>
<circle cx="1748.3" cy="1608.2" r="9.1" fill="#F0E442"/>
<circle cx="413.27" cy="1664.2" r="9.1" fill="#56B4E9"/>
<circle cx="580.15" cy="1682.8" r="9.1" fill="#56B4E9"/>
<circle cx="747.03" cy="1643.9" r="9.1" fill="#56B4E9"/>
<circle cx="913.91" cy="1746.3" r="9.1" fill="#56B4E9"/>
<circle cx="1080.79" cy="1849.9" r="9.1" fill="#56B4E9"/>
<circle cx="1247.67" cy="2050" r="9.1" fill="#56B4E9"/>
<circle cx="1414.55" cy="1964.9" r="9.1" fill="#56B4E9"/>
<circle cx="1581.43" cy="1770.3" r="9.1" fill="#56B4E9"/>
<circle cx="1748.3" cy="1747.8" r="9.1" fill="#56B4E9"/>
<circle cx="413.27" cy="1631.5" r="9.1" fill="#E69F00"/>
<circle cx="580.15" cy="1637.1" r="9.1" fill="#E69F00"/>
<circle cx="747.03" cy="1618.7" r="9.1" fill="#E69F00"/>
<circle cx="913.91" cy="1742.6" r="9.1" fill="#E69F00"/>
<circle cx="1080.79" cy="1753.4" r="9.1" fill="#E69F00"/>
<circle cx="1247.67" cy="2059.6" r="9.1" fill="#E69F00"/>
<circle cx="1414.55" cy="1874.8" r="9.1" fill="#E69F00"/>
<circle cx="1581.43" cy="1651.7" r="9.1" fill="#E69F00"/>
<circle cx="1748.3" cy="1645.7" r="9.1" fill="#E69F00"/>
<circle cx="413.27" cy="1762.1" r="9.1" fill="#009E73"/>
<circle cx="580.15" cy="1782.7" r="9.1" fill="#009E73"/>
<circle cx="747.03" cy="1747.4" r="9.1" fill="#009E73"/>
<circle cx="913.91" cy="1846.9" r="9.1" fill="#009E73"/>
<circle cx="1080.79" cy="1953.1" r="9.1" fill="#009E73"/>
<circle cx="1247.67" cy="2160.7" r="9.1" fill="#009E73"/>
<circle cx="1414.55" cy="2070.5" r="9.1" fill="#009E73"/>
<circle cx="1581.43" cy="1874.7" r="9.1" fill="#009E73"/>
<circle cx="1748.3" cy="1843.2" r="9.1" fill="#009E73"/>
<circle cx="413.27" cy="1661.1" r="9.1" fill="#D55E00"/>
<circle cx="580.15" cy="1659.6" r="9.1" fill="#D55E00"/>
<circle cx="747.03" cy="1633.3" r="9.1" fill="#D55E00"/>
<circle cx="913.91" cy="1762.1" r="9.1" fill="#D55E00"/>
<circle cx="1080.79" cy="1780.8" r="9.1" fill="#D55E00"/>
<circle cx="1247.67" cy="2076.3" r="9.1" fill="#D55E00"/>
<circle cx="1414.55" cy="1891.7" r="9.1" fill="#D55E00"/>
<circle cx="1581.43" cy="1672" r="9.1" fill="#D55E00"/>
<circle cx="1748.3" cy="1670.9" r="9.1" fill="#D55E00"/>
<circle cx="246.4" cy="1853.3" r="9.1" fill="#000"/>
<circle cx="413.27" cy="1752.7" r="9.1" fill="#000"/>
<circle cx="580.15" cy="1702.8" r="9.1" fill="#000"/>
<circle cx="747.03" cy="1736.6" r="9.1" fill="#000"/>
<circle cx="913.91" cy="1810.1" r="9.1" fill="#000"/>
<circle cx="1080.79" cy="1916.7" r="9.1" fill="#000"/>
<circle cx="1247.67" cy="2043.7" r="9.1" fill="#000"/>
<circle cx="1414.55" cy="1828.1" r="9.1" fill="#000"/>
<circle cx="1748.3" cy="1758.7" r="9.1" fill="#000"/>
<rect x="171.3" y="1551.7" width="1652.1" height="638.1" fill="none" stroke="#333333" stroke-width="4.2"/>
</g>
<g stroke="#333333" stroke-width="4.2" fill="none">
<line x1="246.4" x2="246.4" y1="2189.8" y2="2200.7"/>
<line x1="580.15" x2="580.15" y1="2189.8" y2="2200.7"/>
<line x1="913.91" x2="913.91" y1="2189.8" y2="2200.7"/>
<line x1="1247.67" x2="1247.67" y1="2189.8" y2="2200.7"/>
<line x1="1581.43" x2="1581.43" y1="2189.8" y2="2200.7"/>
<line x1="160.5" x2="171.3" y1="1676.1" y2="1676.1"/>
<line x1="160.5" x2="171.3" y1="1887.2" y2="1887.2"/>
<line x1="160.5" x2="171.3" y1="2098.3" y2="2098.3"/>
</g>
<g font-family='"Liberation Sans", sans-serif' font-size="35.1" fill="#4D4D4D">
<text x="246.4" y="2233.5" text-anchor="middle">2012</text>
<text x="580.15" y="2233.5" text-anchor="middle">2014</text>
<text x="913.91" y="2233.5" text-anchor="middle">2016</text>
<text x="1247.67" y="2233.5" text-anchor="middle">2018</text>
<text x="1581.43" y="2233.5" text-anchor="middle">2020</text>
<text x="151" y="1688.7" text-anchor="end">10000</text>
<text x="151" y="1899.8" text-anchor="end">1000</text>
<text x="151" y="2110.9" text-anchor="end">100</text>
</g>
<text transform="translate(31.7,1870.5) rotate(-90)" text-anchor="middle" font-family='"Liberation Sans", sans-serif' font-size="44" fill="#000">Eulachon (metric tons)</text>
<text x="997.35" y="2284.5" text-anchor="middle" font-family='"Liberation Sans", sans-serif' font-size="44" style="font-kerning:normal" fill="#000">Year</text>
<text x="506.6" y="2454.6" font-family='"Liberation Sans", sans-serif' font-size="44" fill="#000">Model</text>
<line x1="655" x2="710.4" y1="2394.1" y2="2394.1" stroke="#000000" stroke-width="4.4"/>
<circle cx="682.7" cy="2394.1" r="9.1" fill="#000000"/>
<text x="738.7" y="2406.5" font-family='"Liberation Sans", sans-serif' font-size="35.05" fill="#000">Assessment</text>
<line x1="655" x2="710.4" y1="2484.8" y2="2484.8" stroke="#CC79A7" stroke-width="4.4"/>
<circle cx="682.7" cy="2484.8" r="9.1" fill="#CC79A7"/>
<text x="738.7" y="2497.2" font-family='"Liberation Sans", sans-serif' font-size="35.05" fill="#000">EQ1</text>
<line x1="963" x2="1018.4" y1="2394.1" y2="2394.1" stroke="#F0E442" stroke-width="4.4"/>
<circle cx="990.7" cy="2394.1" r="9.1" fill="#F0E442"/>
<text x="1046.7" y="2406.5" font-family='"Liberation Sans", sans-serif' font-size="35.05" fill="#000">EQ2</text>
<line x1="963" x2="1018.4" y1="2484.8" y2="2484.8" stroke="#56B4E9" stroke-width="4.4"/>
<circle cx="990.7" cy="2484.8" r="9.1" fill="#56B4E9"/>
<text x="1046.7" y="2497.2" font-family='"Liberation Sans", sans-serif' font-size="35.05" fill="#000">EQ3</text>
<line x1="1147.5" x2="1202.9" y1="2394.1" y2="2394.1" stroke="#E69F00" stroke-width="4.4"/>
<circle cx="1175.2" cy="2394.1" r="9.1" fill="#E69F00"/>
<text x="1231.2" y="2406.5" font-family='"Liberation Sans", sans-serif' font-size="35.05" fill="#000">EQ4</text>
<line x1="1147.5" x2="1202.9" y1="2484.8" y2="2484.8" stroke="#009E73" stroke-width="4.4"/>
<circle cx="1175.2" cy="2484.8" r="9.1" fill="#009E73"/>
<text x="1231.2" y="2497.2" font-family='"Liberation Sans", sans-serif' font-size="35.05" fill="#000">EQ5</text>
<line x1="1331.9" x2="1387.3" y1="2394.1" y2="2394.1" stroke="#D55E00" stroke-width="4.4"/>
<circle cx="1359.6" cy="2394.1" r="9.1" fill="#D55E00"/>
<text x="1415.6" y="2406.5" font-family='"Liberation Sans", sans-serif' font-size="35.05" fill="#000">EQ6</text>
</svg>
</body>
</html>
